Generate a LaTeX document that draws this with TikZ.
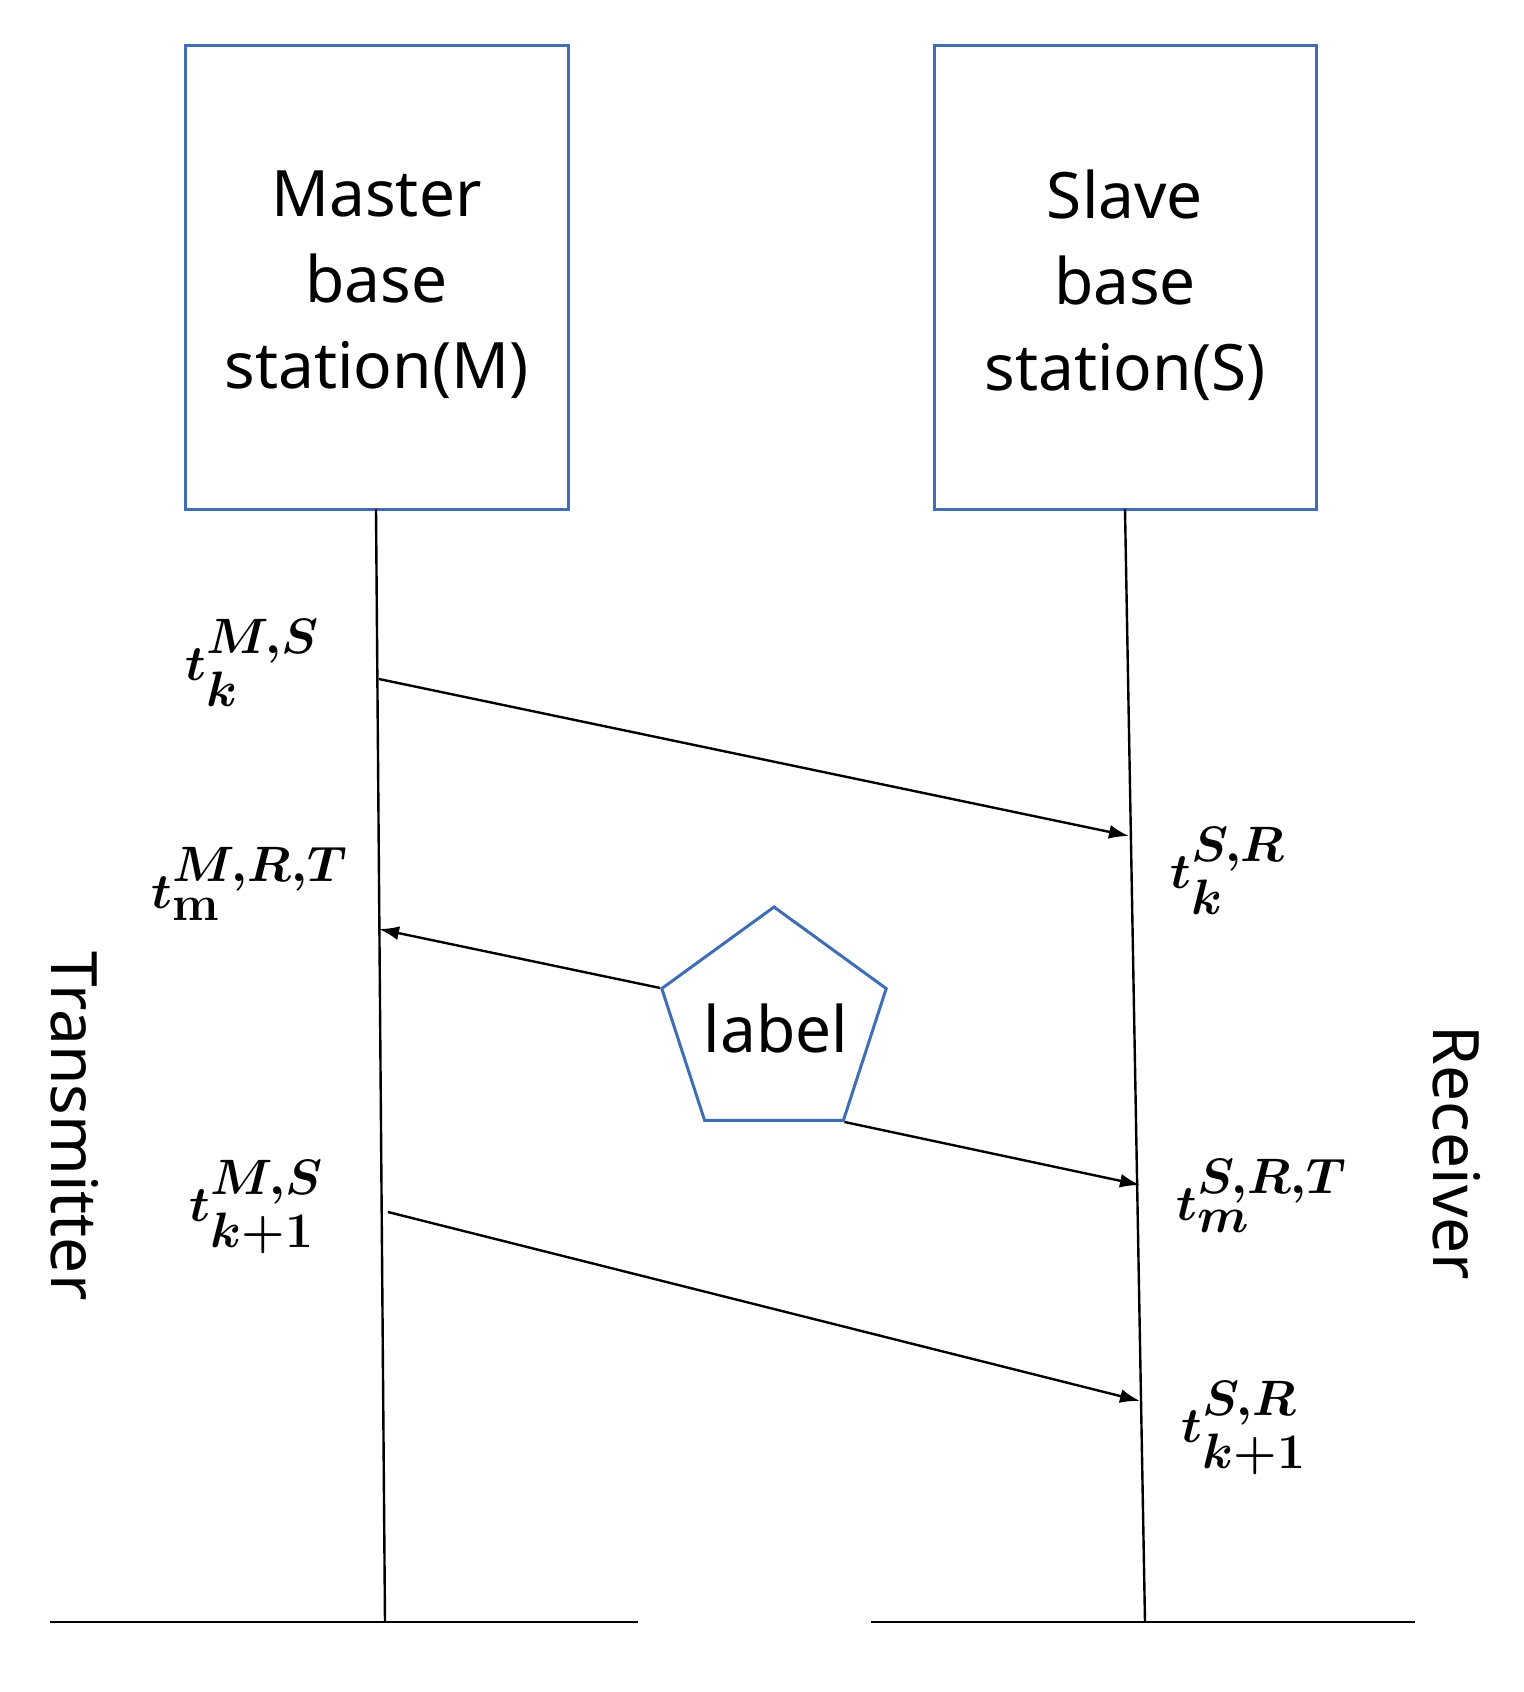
\documentclass[tikz,border=0pt]{standalone}
\usepackage{fontspec}
\usepackage{amsmath,bm}
\setmainfont{Noto Sans}
\usetikzlibrary{shapes.geometric,arrows.meta}
\definecolor{boxblue}{RGB}{64,110,180}
\begin{document}
\begin{tikzpicture}[x=0.5pt,y=-0.5pt,
  box/.style={draw=boxblue,line width=1.5pt},
  txt/.style={font=\fontsize{32}{43}\selectfont,align=center},
  mth/.style={font=\fontsize{33}{38}\selectfont},
  arr/.style={line width=1.2pt,-{Latex[length=10pt,width=7pt]}}]
\useasboundingbox (0,0) rectangle (1524,1692);
\draw[box] (185,45) rectangle (568,509);
\draw[box] (934,45) rectangle (1316,509);
\node[txt] (M) at (376.5,285) {Master\\base\\station(M)};
\node[txt] (S) at (1125,285) {Slave\\base\\station(S)};
\coordinate (mt) at (376,509); \coordinate (mb) at (385,1622);
\coordinate (st) at (1125,509); \coordinate (sb) at (1145,1622);
\draw[line width=1.2pt] (mt)--(mb) (st)--(sb);
\coordinate (g1) at (50,1622); \coordinate (g2) at (638,1622);
\coordinate (g3) at (871,1622); \coordinate (g4) at (1415,1622);
\draw[line width=1.2pt] (g1)--(g2) (g3)--(g4);
\node[regular polygon,regular polygon sides=5,minimum size=118pt,inner sep=0pt,draw=boxblue,line width=1.5pt] (P) at (774,1025) {};
\node[txt] (L) at (776,1028) {label};
\coordinate (a1) at (379,679); \coordinate (b1) at (1129,836);
\coordinate (a2) at (379,929);
\coordinate (b3) at (1140,1185);
\coordinate (a4) at (388,1212); \coordinate (b4) at (1140,1401);
\draw[arr] (a1)--(b1);
\draw[arr] (P.corner 2)--(a2);
\draw[arr] (P.corner 4)--(b3);
\draw[arr] (a4)--(b4);
\node[mth] (l1) at (253,663) {$\bm{t_k^{M,S}}$};
\node[mth] (l2) at (250,884) {$\bm{t_{\mathbf{m}}^{M,R,T}}$};
\node[mth] (l3) at (257,1207) {$\bm{t_{k+1}^{M,S}}$};
\node[mth] (r1) at (1228,871) {$\bm{t_k^{S,R}}$};
\node[mth] (r2) at (1262,1196) {$\bm{t_m^{S,R,T}}$};
\node[mth] (r3) at (1244,1428) {$\bm{t_{k+1}^{S,R}}$};
\node[txt,rotate=-90] (T) at (75,1126) {Transmitter};
\node[txt,rotate=-90] (R) at (1457,1153) {Receiver};
\end{tikzpicture}
\end{document}
